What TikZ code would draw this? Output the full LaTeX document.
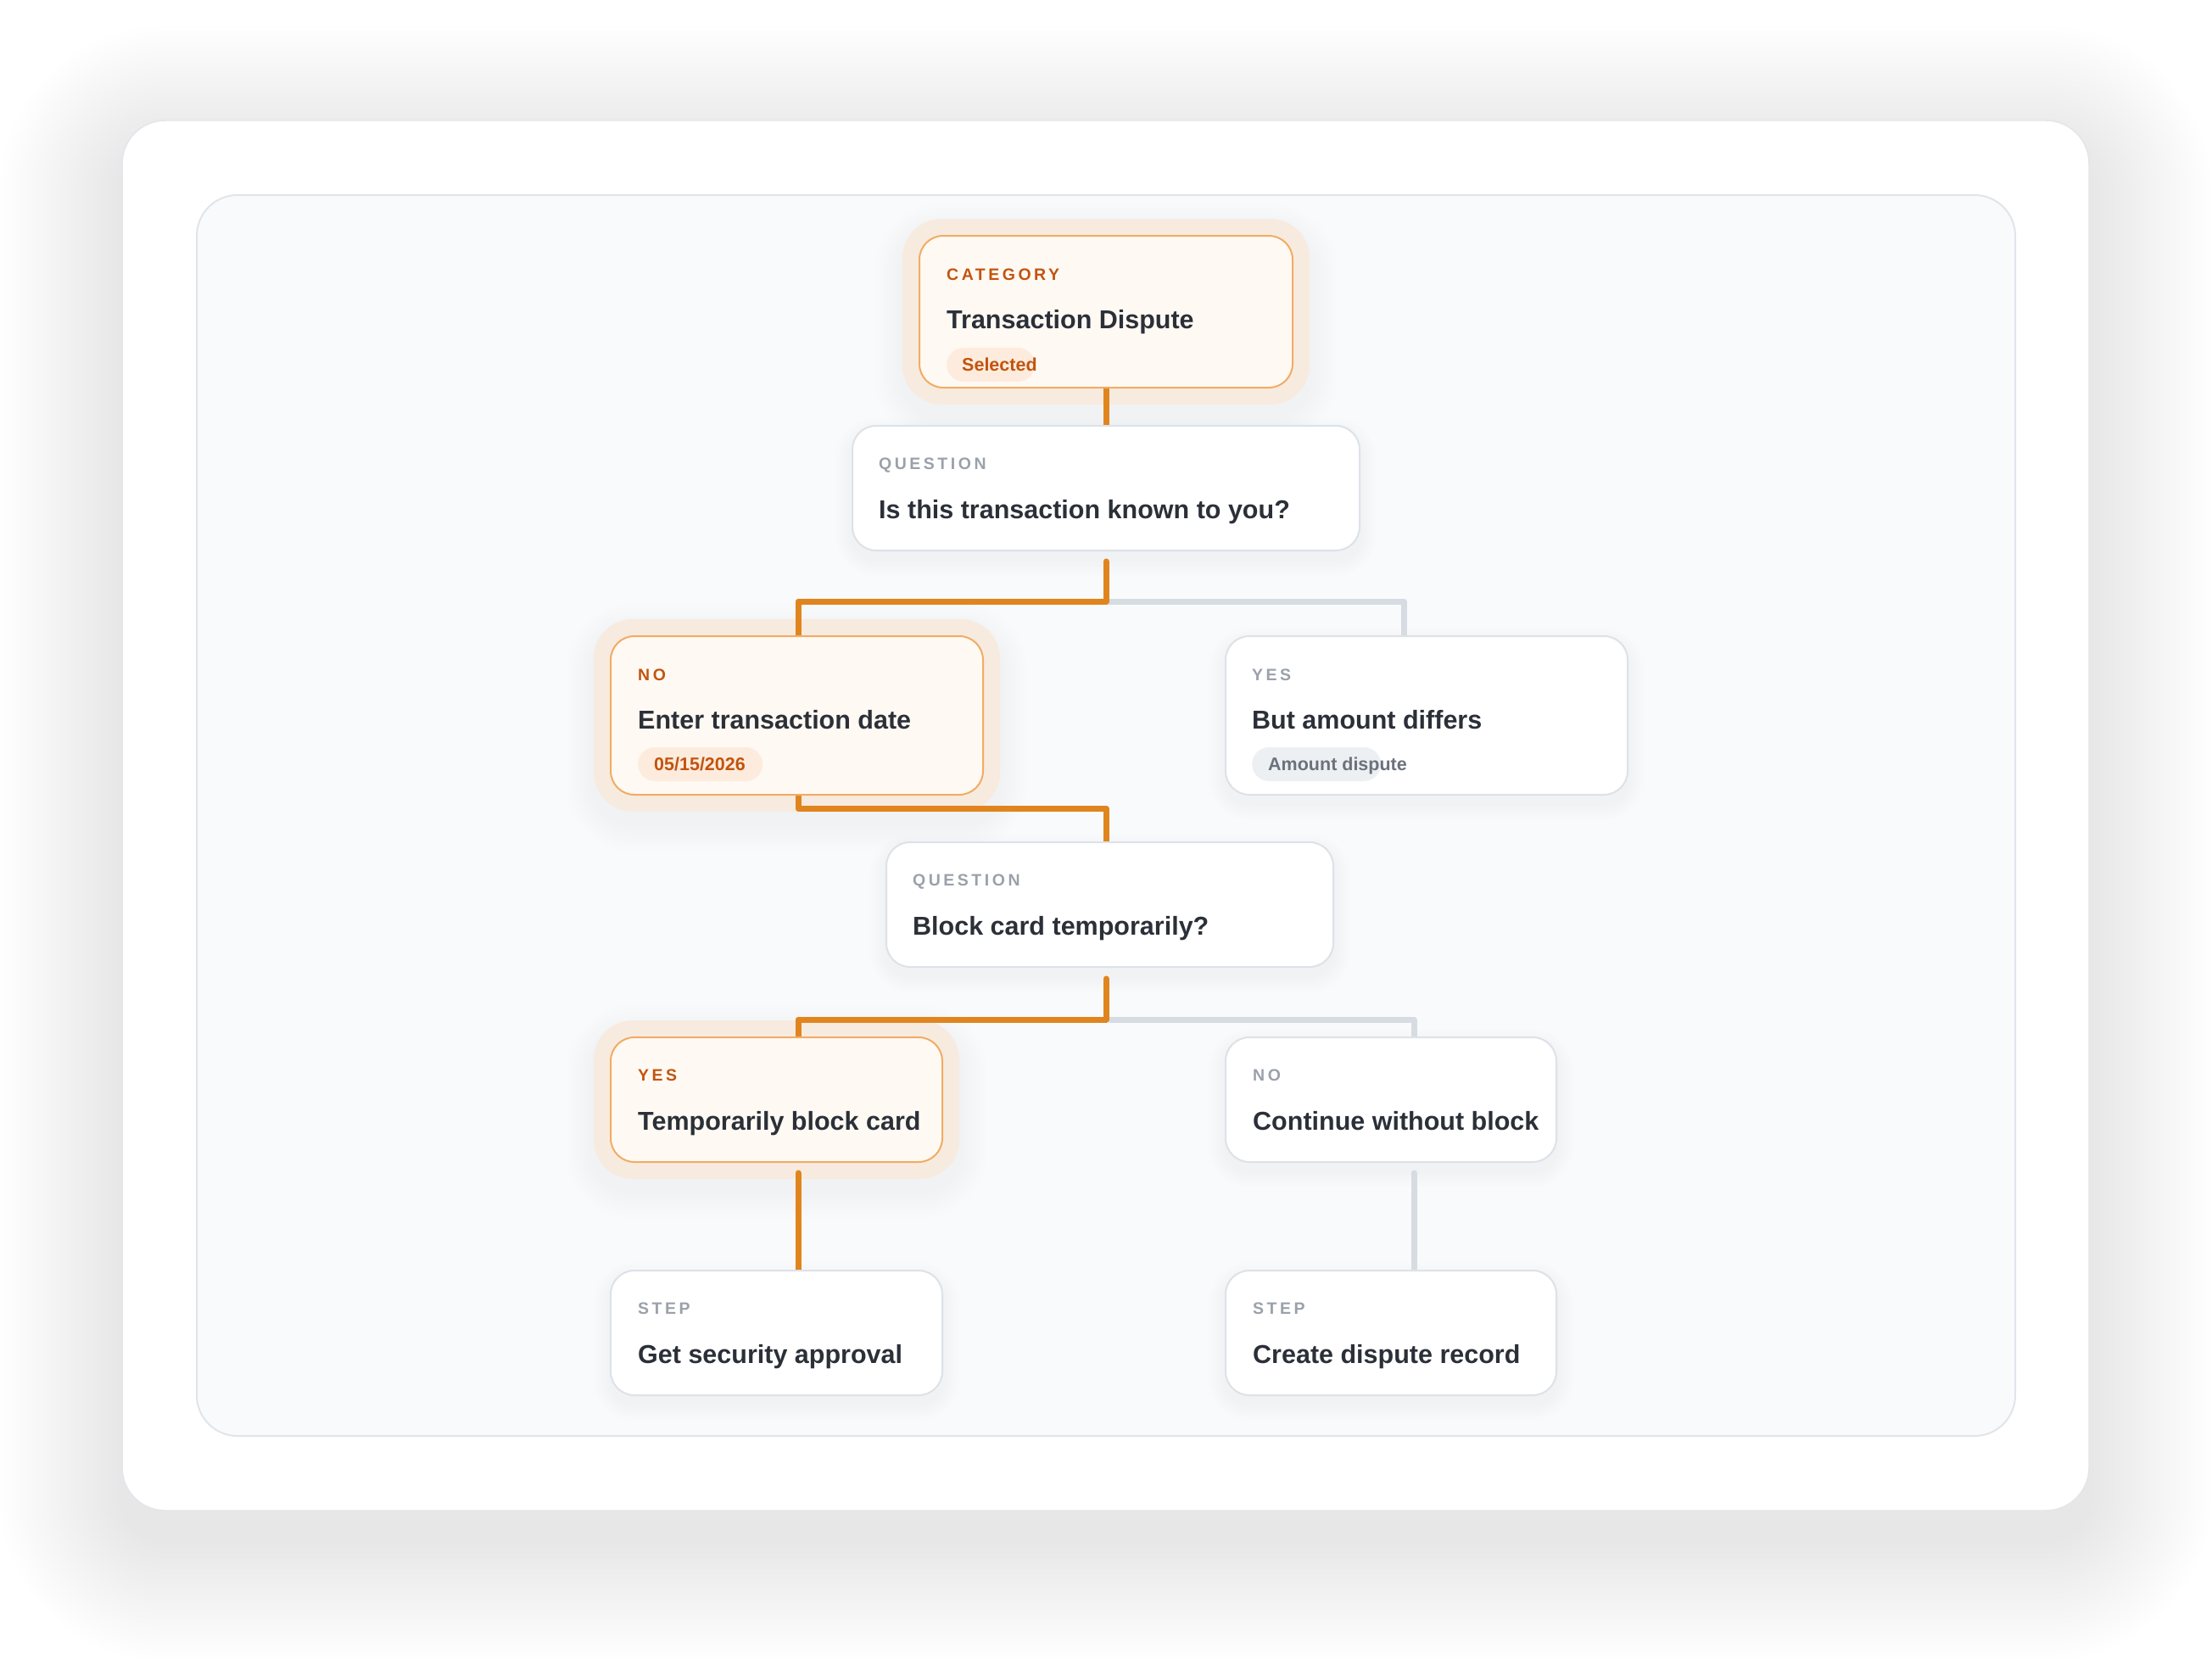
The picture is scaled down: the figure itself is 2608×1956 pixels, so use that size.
\documentclass[tikz,border=0pt]{standalone}
\usepackage{fontspec}
\setmainfont{Liberation Sans}
\newfontfamily\labfont{Liberation Sans}[LetterSpace=18]
\usetikzlibrary{calc}
\definecolor{orln}{RGB}{224,133,30}
\definecolor{grln}{RGB}{214,220,226}
\definecolor{orbd}{RGB}{242,172,100}
\definecolor{orfill}{RGB}{255,249,243}
\definecolor{halo}{RGB}{247,235,224}
\definecolor{labor}{RGB}{194,84,14}
\definecolor{labgray}{RGB}{154,161,170}
\definecolor{ttlc}{RGB}{43,48,56}
\definecolor{cardbd}{RGB}{220,226,232}
\definecolor{pillor}{RGB}{253,236,222}
\definecolor{pillgr}{RGB}{237,240,243}
\definecolor{pillgrt}{RGB}{107,114,124}
\definecolor{outbd}{RGB}{226,230,235}
\definecolor{panbd}{RGB}{224,229,235}
\definecolor{panfill}{RGB}{249,250,252}
\pgfdeclarelayer{bg}
\pgfdeclarelayer{conn}
\pgfsetlayers{bg,conn,main}
\tikzset{
  card/.style={draw=cardbd, line width=2pt, fill=white, rounded corners=28pt, inner sep=0pt, outer sep=0pt},
  ocard/.style={card, draw=orbd, fill=orfill},
  lab/.style={font=\labfont\bfseries\fontsize{19.5}{22}\selectfont, text=labgray, inner sep=0pt, anchor=base west},
  olab/.style={lab, text=labor},
  ttl/.style={font=\bfseries\fontsize{30.5}{36}\selectfont, text=ttlc, inner sep=0pt, anchor=base west},
  pillbox/.style={fill=pillgr, rounded corners=20pt, inner sep=0pt, minimum height=40pt, anchor=west},
  opillbox/.style={pillbox, fill=pillor},
  pilltxt/.style={font=\bfseries\fontsize{21.5}{24}\selectfont, text=pillgrt, inner sep=0pt, anchor=base west},
  opilltxt/.style={pilltxt, text=labor},
  orline/.style={draw=orln, line width=7pt, line cap=round, line join=round},
  grline/.style={draw=grln, line width=7pt, line cap=round, line join=round},
}
\begin{document}
\begin{tikzpicture}[x=1pt,y=-1pt]
\useasboundingbox (0,0) rectangle (2608,1956);
\begin{pgfonlayer}{bg}
  \fill[white] (0,0) rectangle (2608,1956);
  \foreach \i in {1,...,24}{
    \pgfmathsetmacro\rr{51+\i*6}
    \fill[black, opacity=0.004, rounded corners=\rr pt] (144-\i*6, 175-\i*6) rectangle (2463+\i*6, 1814+\i*6);
  }
  \draw[draw=outbd, line width=1.5pt, fill=white, rounded corners=51pt] (144,142) rectangle (2463,1781);
  \draw[draw=panbd, line width=2pt, fill=panfill, rounded corners=48pt] (232,230) rectangle (2376,1693);
\end{pgfonlayer}

% cards
\node[ocard, minimum width=440pt, minimum height=179pt] (cat) at (1304,367.5) {};
\node[card, minimum width=598pt, minimum height=147pt] (q1) at (1304,575.5) {};
\node[ocard, minimum width=439pt, minimum height=187pt] (no1) at (939.5,843.5) {};
\node[card, minimum width=474pt, minimum height=187pt] (yes1) at (1682,843.5) {};
\node[card, minimum width=527pt, minimum height=147pt] (q2) at (1308.5,1066.5) {};
\node[ocard, minimum width=391pt, minimum height=147pt] (yes2) at (915.5,1296.5) {};
\node[card, minimum width=390pt, minimum height=147pt] (no2) at (1640,1296.5) {};
\node[card, minimum width=391pt, minimum height=147pt] (step1) at (915.5,1571.5) {};
\node[card, minimum width=390pt, minimum height=147pt] (step2) at (1640,1571.5) {};

% texts
\node[olab] (catL) at ([shift={(32,52)}]cat.north west) {CATEGORY};
\node[ttl] (catT) at ([shift={(32,109)}]cat.north west) {Transaction Dispute};
\node[opillbox, minimum width=104pt] (catP) at ([shift={(32,152)}]cat.north west) {};
\node[opilltxt] (catPT) at ([shift={(50,159)}]cat.north west) {Selected};

\node[lab] (q1L) at ([shift={(31,51)}]q1.north west) {QUESTION};
\node[ttl] (q1T) at ([shift={(31,109)}]q1.north west) {Is this transaction known to you?};

\node[olab] (no1L) at ([shift={(32,52)}]no1.north west) {NO};
\node[ttl] (no1T) at ([shift={(32,109)}]no1.north west) {Enter transaction date};
\node[opillbox, minimum width=147pt] (no1P) at ([shift={(32,151)}]no1.north west) {};
\node[opilltxt] (no1PT) at ([shift={(51,158)}]no1.north west) {05/15/2026};

\node[lab] (yes1L) at ([shift={(31,52)}]yes1.north west) {YES};
\node[ttl] (yes1T) at ([shift={(31,109)}]yes1.north west) {But amount differs};
\node[pillbox, minimum width=152pt] (yes1P) at ([shift={(31,151)}]yes1.north west) {};
\node[pilltxt] (yes1PT) at ([shift={(50,158)}]yes1.north west) {Amount dispute};

\node[lab] (q2L) at ([shift={(31,51)}]q2.north west) {QUESTION};
\node[ttl] (q2T) at ([shift={(31,109)}]q2.north west) {Block card temporarily?};

\node[olab] (yes2L) at ([shift={(32,51)}]yes2.north west) {YES};
\node[ttl] (yes2T) at ([shift={(32,109)}]yes2.north west) {Temporarily block card};

\node[lab] (no2L) at ([shift={(32,51)}]no2.north west) {NO};
\node[ttl] (no2T) at ([shift={(32,109)}]no2.north west) {Continue without block};

\node[lab] (s1L) at ([shift={(32,51)}]step1.north west) {STEP};
\node[ttl] (s1T) at ([shift={(32,109)}]step1.north west) {Get security approval};

\node[lab] (s2L) at ([shift={(32,51)}]step2.north west) {STEP};
\node[ttl] (s2T) at ([shift={(32,109)}]step2.north west) {Create dispute record};

% shadows and halos
\begin{pgfonlayer}{bg}
  \foreach \n in {q1,yes1,q2,no2,step1,step2}{
    \foreach \i in {1,...,8}{
      \pgfmathsetmacro\rr{28+\i*2.5}
      \fill[black, opacity=0.005, rounded corners=\rr pt] ([shift={(-\i*2.5,-\i*2.5+10)}]\n.north west) rectangle ([shift={(\i*2.5,\i*2.5+10)}]\n.south east);
    }
  }
  \foreach \n in {cat,no1,yes2}{
    \foreach \i in {1,...,8}{
      \pgfmathsetmacro\rr{46+\i*4}
      \fill[black, opacity=0.005, rounded corners=\rr pt] ([shift={(-20-\i*4,-20-\i*4+14)}]\n.north west) rectangle ([shift={(20+\i*4,20+\i*4+14)}]\n.south east);
    }
    \fill[halo, rounded corners=46pt] ([shift={(-20,-20)}]\n.north west) rectangle ([shift={(20,20)}]\n.south east);
  }
\end{pgfonlayer}

% connectors
\begin{pgfonlayer}{conn}
  \coordinate (j1) at ($(q1.south)+(0,60)$);
  \coordinate (j2) at ($(q2.south)+(0,62)$);
  \draw[grline] (j1) -| ([xshift=-27pt]yes1.north);
  \draw[grline] (j2) -| ([xshift=27pt]no2.north);
  \draw[grline] ([shift={(27,13)}]no2.south) -- ([xshift=27pt]step2.north);
  \draw[orline] (cat.south) -- (q1.north);
  \draw[orline] ($(q1.south)+(0,13)$) -- (j1) -| ([xshift=1.5pt]no1.north);
  \draw[orline] ([xshift=1.5pt]no1.south) -- ++(0,16) -| ([xshift=-4.5pt]q2.north);
  \draw[orline] ([shift={(-4.5,14)}]q2.south) -- ([xshift=-4.5pt]j2) -| ([xshift=25.5pt]yes2.north);
  \draw[orline] ([shift={(25.5,13)}]yes2.south) -- ([xshift=25.5pt]step1.north);
\end{pgfonlayer}
\end{tikzpicture}
\end{document}
